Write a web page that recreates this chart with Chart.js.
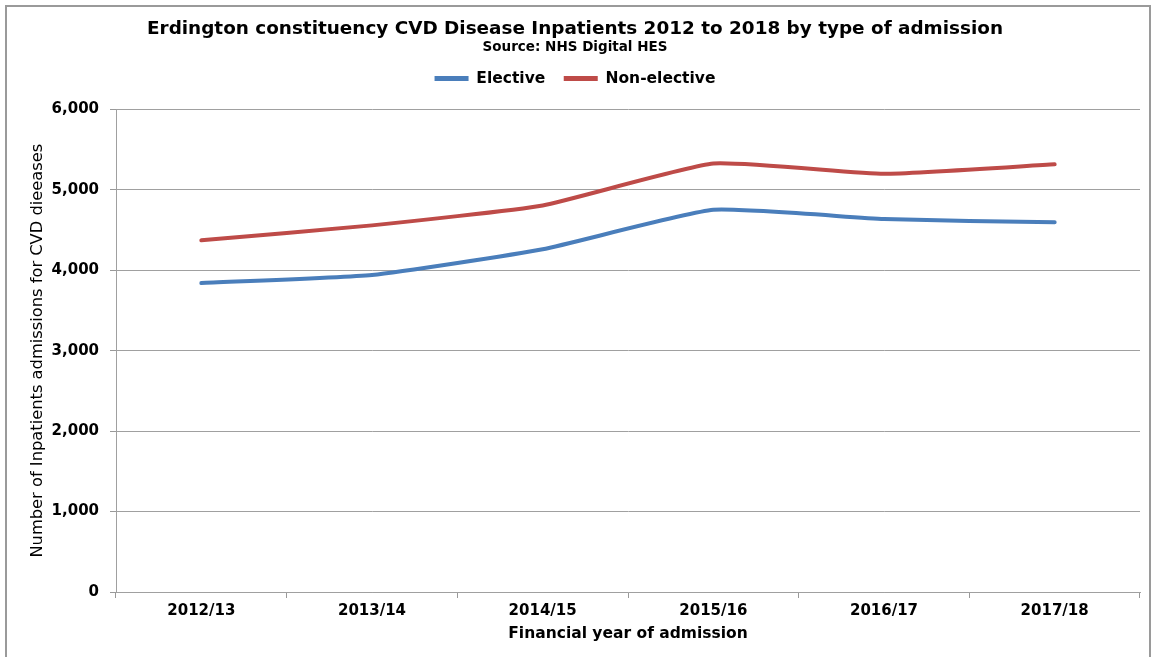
<!DOCTYPE html>
<html>
<head>
<meta charset="utf-8">
<script src="https://cdn.jsdelivr.net/npm/chart.js@4/dist/chart.umd.min.js"></script>
<style>
  html, body { margin:0; padding:0; background:#fff; }
  #wrap { position:relative; width:1153px; height:657px; }
  #frame { position:absolute; left:5px; top:5px; width:1146px; height:660px; border:2px solid #9a9a9a; box-sizing:border-box; pointer-events:none; }
  canvas { position:absolute; left:0; top:0; }
</style>
</head>
<body>
<div id="wrap">
  <canvas id="c" width="1153" height="657"></canvas>
  <div id="frame"></div>
</div>
<script>
const categories = ["2012/13", "2013/14", "2014/15", "2015/16", "2016/17", "2017/18"];
const elective = [3840, 3940, 4260, 4750, 4635, 4595];
const nonElective = [4372, 4557, 4805, 5325, 5198, 5316];
const yTicks = [0, 1000, 2000, 3000, 4000, 5000, 6000];

const FONT = "'DejaVu Sans', 'Liberation Sans', Arial, sans-serif";

// empty layout box placed between the legend and the plot area
const spacerPlugin = {
  id: 'spacer',
  start(chart) {
    const box = {
      position: 'top', weight: 500, fullSize: true, options: {},
      width: 0, height: 0, left: 0, top: 0, right: 0, bottom: 0,
      isHorizontal() { return true; },
      update(maxWidth) { this.width = maxWidth; this.height = 13; },
      draw() {}
    };
    Chart.layouts.addBox(chart, box);
  }
};

new Chart(document.getElementById('c'), {
  type: 'line',
  plugins: [spacerPlugin],
  data: {
    labels: categories,
    datasets: [
      { label: 'Elective', data: elective, borderColor: '#4a7ebb', backgroundColor: '#4a7ebb',
        borderWidth: 4, pointRadius: 0, tension: 0.15, borderCapStyle: 'round', borderJoinStyle: 'round' },
      { label: 'Non-elective', data: nonElective, borderColor: '#be4b48', backgroundColor: '#be4b48',
        borderWidth: 4, pointRadius: 0, tension: 0.15, borderCapStyle: 'round', borderJoinStyle: 'round' }
    ]
  },
  options: {
    responsive: false,
    animation: false,
    layout: { padding: { left: 10, right: 13, top: 1, bottom: 0 } },
    plugins: {
      title: {
        display: true,
        text: 'Erdington constituency CVD Disease Inpatients 2012 to 2018 by type of admission',
        color: '#000',
        font: { family: FONT, size: 18.4, weight: 'bold' },
        padding: { top: 17, bottom: -1 }
      },
      subtitle: {
        display: true,
        text: 'Source: NHS Digital HES',
        color: '#000',
        font: { family: FONT, size: 13.5, weight: 'bold' },
        padding: { top: 0, bottom: -3 }
      },
      legend: {
        display: true,
        position: 'top',
        labels: {
          color: '#000',
          font: { family: FONT, size: 15.5, weight: 'bold' },
          boxWidth: 34,
          boxHeight: 5,
          padding: 18.5,
          generateLabels(chart) {
            return chart.data.datasets.map((ds, i) => ({
              text: ds.label, fillStyle: ds.borderColor, strokeStyle: ds.borderColor,
              lineWidth: 0, hidden: false, datasetIndex: i, fontColor: '#000'
            }));
          }
        }
      },
      tooltip: { enabled: false }
    },
    scales: {
      x: {
        offset: true,
        grid: { display: true, drawOnChartArea: false, offset: true, tickLength: 6, color: '#999', tickColor: '#999' },
        border: { display: true, color: '#a0a0a0', width: 1 },
        ticks: { color: '#000', font: { family: FONT, size: 15, weight: 'bold' }, padding: 4, maxRotation: 0 },
        title: { display: true, text: 'Financial year of admission', color: '#000',
                 font: { family: FONT, size: 15.5, weight: 'bold' }, padding: { top: 2, bottom: 14 } },
        afterFit(scale) { scale.height = 65; }
      },
      y: {
        min: 0, max: 6000,
        afterBuildTicks(scale) { scale.ticks = yTicks.map(v => ({ value: v })); },
        grid: { color: '#a0a0a0', lineWidth: 1, tickLength: 6, tickColor: '#999', borderDash: [1, 1], tickBorderDash: [] },
        border: { display: true, color: '#a0a0a0', width: 1 },
        ticks: { color: '#000', font: { family: FONT, size: 15, weight: 'bold' }, padding: 11,
                 callback: v => v.toLocaleString('en-US') },
        title: { display: true, text: 'Number of Inpatients admissions for CVD dieeases', color: '#000',
                 font: { family: FONT, size: 16.3 }, padding: { top: 18, bottom: 4 } },
        afterFit(scale) { scale.width = 106; }
      }
    }
  }
});
</script>
</body>
</html>
